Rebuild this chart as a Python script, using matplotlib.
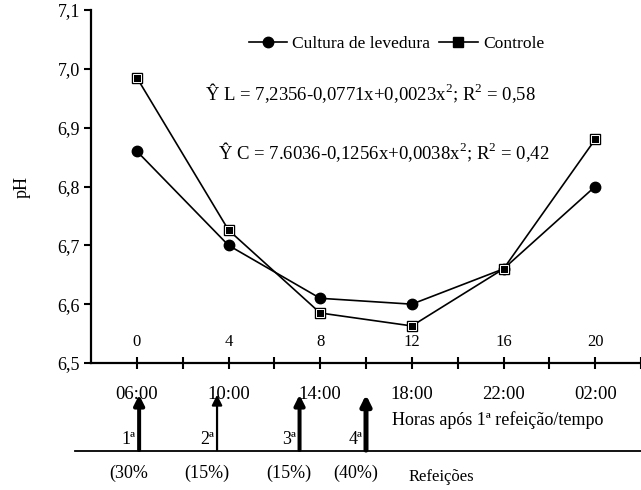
import numpy as np
import matplotlib
matplotlib.use("Agg")
import matplotlib.pyplot as plt
from matplotlib.lines import Line2D

plt.rcParams['font.family'] = ['Liberation Serif', 'DejaVu Serif']
plt.rcParams['mathtext.fontset'] = 'custom'
plt.rcParams['mathtext.rm'] = 'Liberation Serif'

# dados
horas = [0, 4, 8, 12, 16, 20]
ph_levedura = [6.86, 6.70, 6.61, 6.60, 6.66, 6.80]
ph_controle = [6.985, 6.726, 6.585, 6.563, 6.66, 6.88]
horarios = ["06:00", "10:00", "14:00", "18:00", "22:00", "02:00"]
yticks = [6.5, 6.6, 6.7, 6.8, 6.9, 7.0, 7.1]
ytick_labels = ["6,5", "6,6", "6,7", "6,8", "6,9", "7,0", "7,1"]
refeicoes = ["1ª", "2ª", "3ª", "4ª"]
refeicoes_pct = ["(30%", "(15%)", "(15%)", "(40%)"]
refeicoes_hora = [0.1, 3.5, 7.1, 10.0]
refeicoes_larg = [4.0, 2.2, 4.0, 5.0]

eq_L = "Ŷ L = 7,2356-0,0771x+0,0023x$^2$; R$^2$ = 0,58"
eq_C = "Ŷ C = 7.6036-0,1256x+0,0038x$^2$; R$^2$ = 0,42"

fig = plt.figure(figsize=(6.41, 4.90), dpi=100)
ax = fig.add_axes([91/641, 1-363/490, 1-91/641, 353/490])

ax.plot(horas, ph_levedura, color="black", lw=1.2, marker="o", ms=7.5,
        mfc="black", mec="black", clip_on=False, zorder=3)
ax.plot(horas, ph_controle, color="black", lw=1.2, marker="s", ms=7.5,
        mfc="black", mec="black", clip_on=False, zorder=3)
ax.plot(horas, ph_controle, ls="none", marker="s", ms=5.2,
        mfc="black", mec="white", mew=0.7, clip_on=False, zorder=4)

ax.set_xlim(-2, 22)
ax.set_ylim(6.5, 7.1)
ax.set_xticks(np.arange(0, 23, 2))
ax.set_xticklabels([])
ax.set_yticks(yticks)
ax.set_yticklabels(ytick_labels, fontsize=13)

for s in ["top", "right"]:
    ax.spines[s].set_visible(False)
ax.spines["left"].set_linewidth(1.6)
ax.spines["bottom"].set_linewidth(1.6)
ax.tick_params(axis="y", direction="out", length=5, width=1.5, pad=3)
ax.tick_params(axis="x", direction="inout", length=8, width=1.5)

ax.set_ylabel("pH", fontsize=13, labelpad=19)

# rótulos de horas dentro do gráfico
for h in horas:
    ax.text(h, 6.535, str(h), ha="center", va="center", fontsize=12)

# legenda
h1 = Line2D([], [], color="black", lw=1.2, marker="o", ms=7.5, mfc="black")
h2 = Line2D([], [], color="black", lw=1.2, marker="s", ms=7.5, mfc="black")
ax.legend([h1, h2], ["Cultura de levedura", "Controle"], ncol=2, frameon=False,
          fontsize=12.6, handlelength=2.2, handletextpad=0.3, columnspacing=0.5,
          loc="center", bbox_to_anchor=(0.555, 0.905))

ax.text(205/641, 1-93/490, eq_L, transform=fig.transFigure, fontsize=13.5,
        ha="left", va="center")
ax.text(218/641, 1-152/490, eq_C, transform=fig.transFigure, fontsize=13.5,
        ha="left", va="center")

# horários abaixo do eixo
for h, t in zip(horas, horarios):
    ax.text(h, 6.446, t, ha="center", va="center", fontsize=13.5, clip_on=False)

ax.text(498/641, 1-420/490, "Horas após 1ª refeição/tempo", transform=fig.transFigure,
        ha="center", va="center", fontsize=13)

# linha das refeições
ax.plot([-2.7, 22], [6.350, 6.350], color="black", lw=1.3, clip_on=False)
for x, lab, pct, w in zip(refeicoes_hora, refeicoes, refeicoes_pct, refeicoes_larg):
    ax.annotate("", xy=(x, 6.446), xytext=(x, 6.352), clip_on=False,
                annotation_clip=False,
                arrowprops=dict(arrowstyle="-|>,head_width=0.3,head_length=0.6",
                                lw=w * 0.72, color="black", shrinkA=0, shrinkB=0))
    ax.text(x - 0.45, 6.356, lab, ha="center", va="bottom", fontsize=13, clip_on=False)
    ax.text(x - 0.45, 6.312, pct, ha="center", va="center", fontsize=13, clip_on=False)

ax.text(441/641, 1-477/490, "Refeições", transform=fig.transFigure,
        ha="center", va="center", fontsize=12)

fig.savefig("out.png", dpi=100)
